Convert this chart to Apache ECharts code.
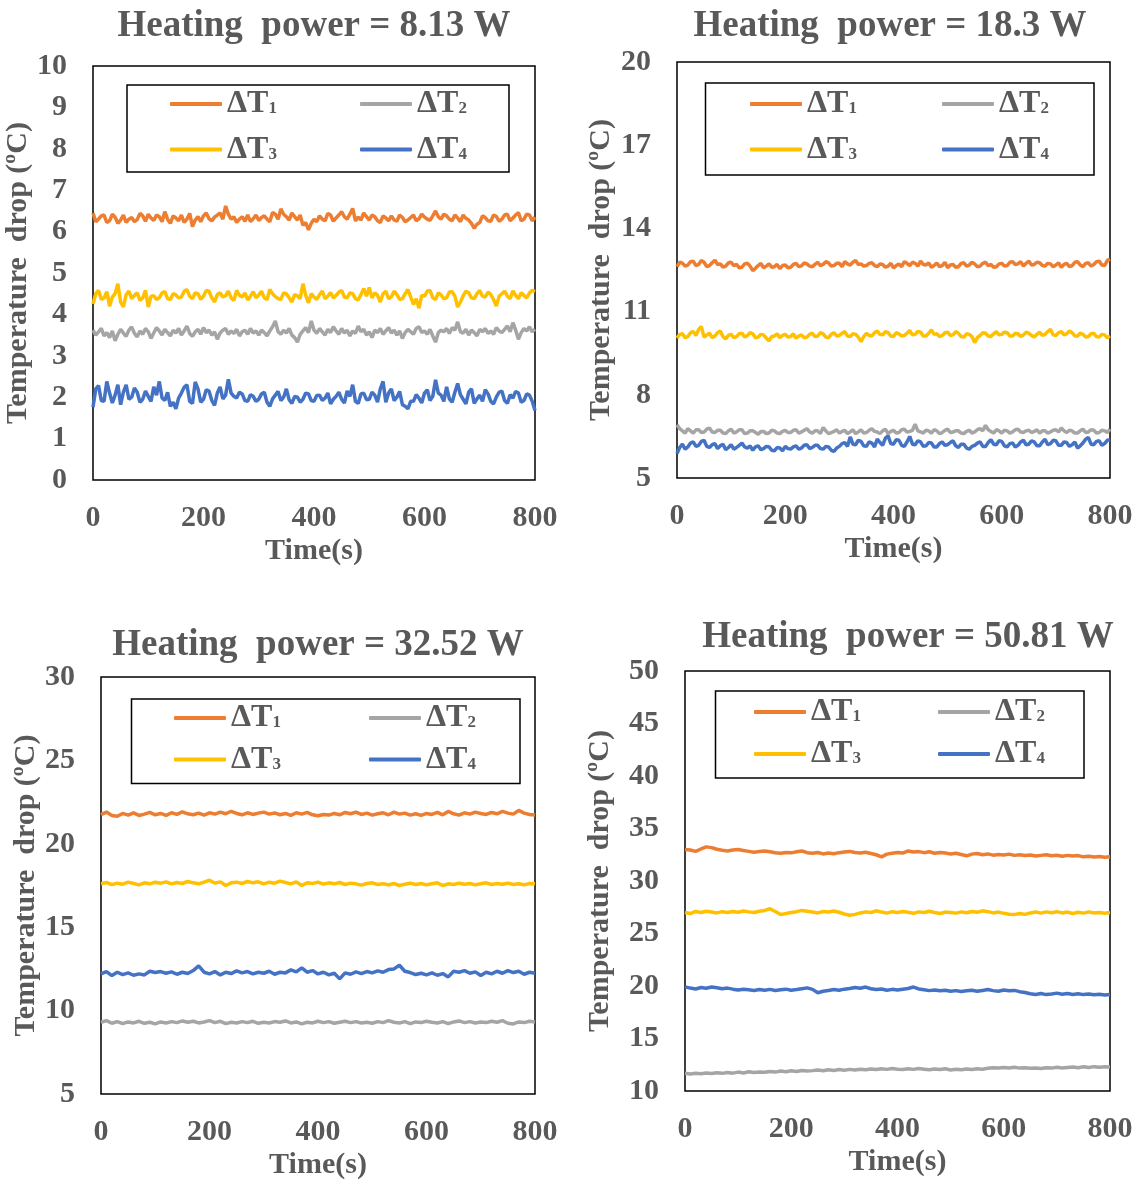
<!DOCTYPE html>
<html lang="en">
<head>
    <meta charset="UTF-8">
    <title>Temperature drop vs time</title>
    <script type="text/javascript" src="https://cdn.jsdelivr.net/npm/echarts@6/dist/echarts.min.js"></script>
    <style>html, body { margin: 0; padding: 0; background: #fff; }</style>
</head>
<body>
<div id="main" style="width: 1145px;height:1182px;"></div>
<script>

    // time axis (s), 5 s steps for the two low-power runs, 10 s for the others
    var TIME5 = [0,5,10,15,20,25,30,35,40,45,50,55,60,65,70,75,80,85,90,95,
        100,105,110,115,120,125,130,135,140,145,150,155,160,165,170,175,180,185,190,195,
        200,205,210,215,220,225,230,235,240,245,250,255,260,265,270,275,280,285,290,295,
        300,305,310,315,320,325,330,335,340,345,350,355,360,365,370,375,380,385,390,395,
        400,405,410,415,420,425,430,435,440,445,450,455,460,465,470,475,480,485,490,495,
        500,505,510,515,520,525,530,535,540,545,550,555,560,565,570,575,580,585,590,595,
        600,605,610,615,620,625,630,635,640,645,650,655,660,665,670,675,680,685,690,695,
        700,705,710,715,720,725,730,735,740,745,750,755,760,765,770,775,780,785,790,795,800];
    var TIME10 = [0,10,20,30,40,50,60,70,80,90,
        100,110,120,130,140,150,160,170,180,190,
        200,210,220,230,240,250,260,270,280,290,
        300,310,320,330,340,350,360,370,380,390,
        400,410,420,430,440,450,460,470,480,490,
        500,510,520,530,540,550,560,570,580,590,
        600,610,620,630,640,650,660,670,680,690,
        700,710,720,730,740,750,760,770,780,790,800];

    var NAMES = ['ΔT1', 'ΔT2', 'ΔT3', 'ΔT4'];
    var COLORS = ['#ED7D31', '#A5A5A5', '#FFC000', '#4472C4'];
    var TITLES = ['Heating  power = 8.13 W', 'Heating  power = 18.3 W',
        'Heating  power = 32.52 W', 'Heating  power = 50.81 W'];
    var Y_MIN = [0, 5, 5, 10];
    var Y_MAX = [10, 20, 30, 50];
    var Y_STEP = [1, 3, 5, 5];

    // 8.13 W
    var p1T1 = [6.45,6.24,6.30,6.38,6.40,6.22,6.26,6.42,6.35,6.20,
        6.28,6.40,6.22,6.30,6.34,6.24,6.29,6.44,6.38,6.25,
        6.42,6.33,6.27,6.40,6.36,6.24,6.48,6.30,6.20,6.38,
        6.33,6.26,6.40,6.22,6.30,6.44,6.12,6.28,6.36,6.24,
        6.38,6.45,6.31,6.26,6.35,6.40,6.45,6.30,6.62,6.42,
        6.30,6.36,6.22,6.30,6.36,6.25,6.40,6.24,6.31,6.40,
        6.27,6.34,6.38,6.30,6.24,6.46,6.42,6.30,6.55,6.42,
        6.36,6.28,6.45,6.36,6.28,6.40,6.15,6.22,6.04,6.20,
        6.30,6.24,6.38,6.30,6.26,6.44,6.40,6.25,6.33,6.40,
        6.48,6.36,6.30,6.42,6.56,6.26,6.35,6.28,6.45,6.36,
        6.28,6.40,6.36,6.26,6.22,6.38,6.33,6.26,6.38,6.28,
        6.25,6.40,6.34,6.24,6.28,6.34,6.40,6.26,6.31,6.42,
        6.35,6.30,6.27,6.38,6.50,6.36,6.30,6.42,6.38,6.30,
        6.26,6.40,6.33,6.24,6.40,6.32,6.28,6.20,6.08,6.18,
        6.22,6.38,6.34,6.26,6.25,6.40,6.37,6.25,6.30,6.40,
        6.42,6.26,6.33,6.40,6.46,6.26,6.30,6.42,6.40,6.26,6.35];
    var p1T2 = [3.62,3.50,3.58,3.66,3.48,3.56,3.44,3.60,3.36,3.52,
        3.64,3.55,3.47,3.62,3.70,3.54,3.46,3.60,3.52,3.66,
        3.58,3.42,3.55,3.68,3.60,3.50,3.64,3.56,3.48,3.62,
        3.55,3.66,3.50,3.60,3.72,3.54,3.47,3.58,3.64,3.52,
        3.68,3.56,3.62,3.50,3.58,3.40,3.55,3.62,3.66,3.52,
        3.60,3.54,3.64,3.48,3.58,3.62,3.52,3.66,3.55,3.60,
        3.50,3.62,3.56,3.48,3.60,3.70,3.84,3.58,3.52,3.62,
        3.55,3.66,3.50,3.44,3.33,3.52,3.60,3.68,3.56,3.84,
        3.62,3.54,3.66,3.58,3.50,3.64,3.56,3.70,3.60,3.52,
        3.66,3.55,3.62,3.48,3.60,3.54,3.72,3.58,3.64,3.50,
        3.58,3.44,3.62,3.56,3.66,3.52,3.60,3.68,3.55,3.62,
        3.50,3.60,3.42,3.56,3.64,3.58,3.52,3.66,3.70,3.56,
        3.60,3.52,3.64,3.48,3.33,3.56,3.62,3.58,3.66,3.54,
        3.68,3.62,3.82,3.58,3.55,3.64,3.50,3.62,3.56,3.48,
        3.64,3.58,3.66,3.54,3.60,3.52,3.68,3.60,3.56,3.64,
        3.72,3.58,3.80,3.62,3.40,3.56,3.66,3.60,3.70,3.58,3.64];
    var p1T3 = [4.25,4.50,4.58,4.36,4.40,4.55,4.20,4.42,4.50,4.74,
        4.30,4.18,4.48,4.56,4.38,4.46,4.52,4.34,4.40,4.58,
        4.18,4.44,4.45,4.36,4.40,4.52,4.55,4.38,4.36,4.50,
        4.47,4.40,4.42,4.56,4.60,4.44,4.38,4.52,4.50,4.36,
        4.44,4.58,4.56,4.40,4.30,4.48,4.52,4.42,4.45,4.56,
        4.40,4.34,4.58,4.46,4.42,4.52,4.35,4.44,4.55,4.40,
        4.47,4.56,4.40,4.36,4.60,4.50,4.43,4.38,4.36,4.52,
        4.50,4.40,4.30,4.48,4.45,4.38,4.74,4.46,4.28,4.50,
        4.42,4.36,4.48,4.56,4.38,4.44,4.53,4.40,4.46,4.54,
        4.58,4.42,4.40,4.52,4.50,4.38,4.35,4.48,4.62,4.44,
        4.65,4.40,4.52,4.46,4.30,4.50,4.56,4.38,4.42,4.56,
        4.48,4.36,4.38,4.50,4.60,4.42,4.24,4.38,4.15,4.46,
        4.44,4.56,4.58,4.40,4.36,4.52,4.47,4.38,4.40,4.54,
        4.55,4.44,4.18,4.30,4.45,4.56,4.52,4.40,4.38,4.50,
        4.58,4.44,4.42,4.54,4.48,4.36,4.20,4.44,4.50,4.56,
        4.44,4.38,4.57,4.46,4.38,4.52,4.46,4.40,4.52,4.58,4.55];
    var p1T4 = [1.76,2.20,2.28,1.92,1.90,2.38,2.10,1.86,2.05,2.30,
        1.82,2.12,2.30,1.95,2.00,2.22,2.12,1.88,1.95,2.15,
        2.02,1.90,2.25,2.05,2.38,1.98,1.92,2.12,1.78,1.88,
        1.72,1.98,2.10,2.24,2.30,1.90,1.85,2.37,2.20,1.88,
        1.95,2.18,2.15,1.92,1.80,2.10,2.25,1.96,2.05,2.43,
        2.10,2.02,1.98,2.12,2.08,1.92,1.90,2.06,2.02,1.90,
        1.95,2.08,2.12,1.88,1.78,1.96,2.05,2.14,1.92,2.00,
        2.20,1.94,1.85,2.02,2.00,1.88,1.95,2.10,2.08,1.92,
        1.90,2.04,2.05,1.92,1.98,2.10,1.84,1.95,2.02,2.12,
        1.95,1.86,2.15,2.02,2.30,1.90,1.85,2.08,2.10,1.94,
        1.95,2.12,2.05,1.88,2.20,2.38,1.88,2.10,2.20,1.92,
        2.00,2.14,1.82,1.78,1.72,1.90,1.90,2.06,1.98,1.86,
        2.10,2.18,1.92,2.02,2.42,2.10,2.05,1.90,2.25,1.96,
        1.88,2.12,2.33,2.06,1.95,1.84,2.12,2.20,1.85,1.96,
        2.05,1.90,2.18,2.08,1.90,1.84,2.00,2.12,2.15,1.92,
        1.85,2.06,1.98,2.14,2.10,1.88,1.92,2.08,2.05,1.90,1.68];

    // 18.3 W
    var p2T1 = [12.62,12.78,12.75,12.64,12.68,12.80,12.82,12.66,12.70,12.84,
        12.78,12.62,12.66,12.76,12.85,12.70,12.72,12.60,12.64,12.76,
        12.78,12.66,12.70,12.58,12.60,12.72,12.75,12.64,12.48,12.56,
        12.66,12.74,12.58,12.64,12.72,12.60,12.62,12.70,12.55,12.66,
        12.68,12.58,12.60,12.70,12.74,12.62,12.65,12.76,12.72,12.64,
        12.62,12.70,12.78,12.66,12.70,12.80,12.76,12.64,12.66,12.74,
        12.74,12.62,12.80,12.72,12.68,12.78,12.84,12.70,12.72,12.64,
        12.66,12.74,12.76,12.66,12.62,12.72,12.70,12.60,12.64,12.74,
        12.58,12.66,12.72,12.62,12.80,12.74,12.66,12.78,12.74,12.64,
        12.82,12.70,12.68,12.76,12.60,12.66,12.75,12.62,12.66,12.78,
        12.58,12.68,12.70,12.60,12.62,12.74,12.76,12.64,12.68,12.78,
        12.72,12.62,12.64,12.74,12.78,12.66,12.70,12.60,12.62,12.72,
        12.74,12.64,12.66,12.78,12.80,12.70,12.72,12.80,12.64,12.74,
        12.82,12.68,12.70,12.78,12.76,12.66,12.64,12.74,12.72,12.62,
        12.68,12.76,12.60,12.70,12.74,12.62,12.66,12.78,12.80,12.68,
        12.62,12.74,12.76,12.64,12.70,12.80,12.82,12.68,12.66,12.84,12.90];
    var p2T2 = [6.92,6.78,6.70,6.62,6.78,6.70,6.62,6.74,6.74,6.64,
        6.66,6.76,6.80,6.66,6.64,6.72,6.72,6.62,6.60,6.70,
        6.76,6.62,6.66,6.74,6.74,6.60,6.62,6.70,6.70,6.64,
        6.58,6.68,6.68,6.60,6.62,6.72,6.70,6.62,6.60,6.68,
        6.72,6.64,6.64,6.72,6.74,6.62,6.66,6.72,6.78,6.66,
        6.62,6.70,6.70,6.60,6.82,6.70,6.60,6.64,6.68,6.74,
        6.62,6.68,6.72,6.60,6.66,6.74,6.60,6.66,6.74,6.62,
        6.64,6.72,6.78,6.68,6.66,6.60,6.70,6.76,6.60,6.68,
        6.72,6.62,6.64,6.74,6.76,6.66,6.68,6.72,6.94,6.70,
        6.66,6.62,6.72,6.70,6.62,6.74,6.70,6.60,6.64,6.72,
        6.76,6.64,6.66,6.70,6.70,6.62,6.60,6.68,6.72,6.62,
        6.66,6.74,6.78,6.70,6.90,6.74,6.68,6.62,6.74,6.70,
        6.62,6.72,6.70,6.62,6.66,6.74,6.76,6.66,6.64,6.70,
        6.72,6.64,6.68,6.74,6.62,6.70,6.70,6.62,6.66,6.72,
        6.74,6.66,6.80,6.70,6.64,6.72,6.70,6.62,6.62,6.70,
        6.76,6.64,6.66,6.74,6.72,6.62,6.64,6.72,6.70,6.64,6.76];
    var p2T3 = [10.05,10.18,10.20,10.06,10.10,10.24,10.28,10.14,10.36,10.46,
        10.08,10.16,10.22,10.06,10.12,10.24,10.30,10.10,10.02,10.14,
        10.18,10.06,10.10,10.20,10.22,10.08,10.14,10.24,10.20,10.06,
        10.08,10.18,10.16,10.04,9.95,10.10,10.12,10.20,10.06,10.14,
        10.18,10.08,10.10,10.20,10.04,10.12,10.16,10.06,10.08,10.18,
        10.22,10.10,10.12,10.24,10.20,10.08,10.06,10.18,10.24,10.12,
        10.14,10.22,10.28,10.12,10.10,10.20,10.18,10.08,9.92,10.10,
        10.22,10.14,10.12,10.24,10.30,10.18,10.16,10.28,10.24,10.12,
        10.10,10.24,10.20,10.12,10.14,10.22,10.32,10.16,10.18,10.28,
        10.26,10.12,10.12,10.22,10.34,10.18,10.20,10.10,10.14,10.24,
        10.26,10.14,10.16,10.28,10.22,10.10,10.08,10.20,10.18,10.10,
        9.88,10.06,10.14,10.24,10.22,10.12,10.10,10.20,10.28,10.16,
        10.18,10.26,10.24,10.12,10.12,10.22,10.20,10.10,10.16,10.26,
        10.22,10.14,10.08,10.18,10.26,10.14,10.18,10.28,10.36,10.16,
        10.14,10.24,10.28,10.16,10.20,10.30,10.24,10.12,10.12,10.22,
        10.18,10.08,10.10,10.20,10.22,10.10,10.08,10.18,10.16,10.06,10.12];
    var p2T4 = [5.88,6.10,6.22,6.04,6.12,6.26,6.30,6.14,6.18,6.32,
        6.36,6.14,6.10,6.20,6.24,6.06,6.16,6.22,6.02,6.10,
        6.20,6.04,6.10,6.18,6.26,6.12,6.08,6.16,6.00,6.12,
        6.16,6.02,6.06,6.14,6.12,6.00,5.98,6.10,6.08,5.98,
        6.14,6.06,6.04,6.12,6.16,6.04,6.08,6.18,6.20,6.06,
        6.10,6.18,6.18,6.06,6.04,6.14,6.12,6.00,5.96,6.08,
        6.14,6.24,6.28,6.14,6.48,6.22,6.20,6.36,6.32,6.16,
        6.14,6.30,6.26,6.12,6.40,6.28,6.18,6.44,6.52,6.24,
        6.22,6.38,6.36,6.18,6.14,6.30,6.50,6.22,6.20,6.34,
        6.30,6.14,6.16,6.28,6.26,6.12,6.12,6.24,6.30,6.18,
        6.20,6.28,6.34,6.16,6.10,6.22,6.22,6.08,6.04,6.14,
        6.18,6.26,6.30,6.14,6.14,6.28,6.38,6.22,6.20,6.34,
        6.32,6.16,6.12,6.24,6.26,6.12,6.18,6.30,6.36,6.20,
        6.22,6.34,6.30,6.16,6.16,6.30,6.40,6.20,6.24,6.36,
        6.34,6.18,6.18,6.30,6.28,6.14,6.20,6.30,6.08,6.16,
        6.26,6.40,6.46,6.22,6.20,6.32,6.34,6.18,6.24,6.36,6.38];

    // 32.52 W
    var p3T1 = [21.75,21.90,21.70,21.65,21.82,21.72,21.85,21.70,21.78,21.88,
        21.74,21.82,21.70,21.86,21.76,21.92,21.80,21.74,21.84,21.72,
        21.86,21.78,21.90,21.80,21.95,21.82,21.74,21.86,21.76,21.84,
        21.90,21.78,21.85,21.74,21.82,21.70,21.86,21.78,21.88,21.74,
        21.68,21.76,21.72,21.82,21.74,21.88,21.80,21.90,21.76,21.84,
        21.72,21.80,21.86,21.74,21.90,21.78,21.84,21.72,21.80,21.70,
        21.82,21.76,21.88,21.74,21.94,21.80,21.72,21.86,21.78,21.90,
        21.82,21.76,21.88,21.80,21.94,21.84,21.78,22.00,21.84,21.76,21.72];
    var p3T2 = [9.30,9.40,9.24,9.34,9.22,9.32,9.26,9.36,9.24,9.30,
        9.20,9.32,9.26,9.34,9.28,9.38,9.30,9.36,9.26,9.32,
        9.40,9.28,9.36,9.22,9.30,9.26,9.34,9.28,9.36,9.24,
        9.30,9.26,9.34,9.30,9.38,9.26,9.32,9.20,9.30,9.26,
        9.36,9.28,9.34,9.24,9.30,9.36,9.28,9.34,9.26,9.30,
        9.24,9.34,9.28,9.40,9.30,9.26,9.34,9.22,9.32,9.28,
        9.36,9.30,9.26,9.34,9.22,9.32,9.38,9.28,9.34,9.26,
        9.32,9.28,9.36,9.30,9.40,9.24,9.20,9.32,9.28,9.36,9.32];
    var p3T3 = [17.60,17.68,17.55,17.64,17.58,17.70,17.62,17.54,17.66,17.60,
        17.70,17.64,17.72,17.60,17.68,17.62,17.74,17.66,17.60,17.70,
        17.82,17.64,17.72,17.50,17.66,17.70,17.62,17.74,17.66,17.72,
        17.60,17.70,17.64,17.76,17.68,17.60,17.72,17.50,17.66,17.62,
        17.70,17.58,17.66,17.60,17.68,17.56,17.64,17.60,17.52,17.62,
        17.66,17.56,17.60,17.54,17.62,17.50,17.58,17.64,17.56,17.62,
        17.54,17.60,17.66,17.50,17.60,17.56,17.64,17.58,17.62,17.54,
        17.60,17.66,17.56,17.62,17.58,17.64,17.56,17.60,17.54,17.62,17.60];
    var p3T4 = [12.20,12.34,12.10,12.30,12.16,12.26,12.12,12.20,12.14,12.36,
        12.28,12.34,12.24,12.32,12.18,12.30,12.22,12.40,12.68,12.30,
        12.20,12.34,12.14,12.30,12.22,12.38,12.26,12.34,12.20,12.30,
        12.24,12.36,12.18,12.30,12.26,12.44,12.32,12.56,12.30,12.40,
        12.20,12.30,12.14,12.24,11.90,12.26,12.18,12.32,12.22,12.34,
        12.26,12.38,12.30,12.46,12.50,12.72,12.36,12.28,12.16,12.24,
        12.14,12.26,12.12,12.22,12.02,12.36,12.30,12.40,12.24,12.32,
        12.10,12.30,12.20,12.36,12.24,12.40,12.28,12.36,12.18,12.30,12.24];

    // 50.81 W
    var p4T1 = [33.00,32.95,32.82,33.05,33.25,33.18,33.02,32.92,32.86,32.95,
        33.00,32.90,32.82,32.74,32.80,32.86,32.78,32.70,32.64,32.72,
        32.68,32.78,32.86,32.70,32.64,32.72,32.58,32.66,32.60,32.70,
        32.76,32.82,32.72,32.66,32.74,32.62,32.50,32.30,32.56,32.64,
        32.72,32.66,32.86,32.76,32.80,32.70,32.78,32.64,32.72,32.66,
        32.58,32.64,32.52,32.40,32.56,32.62,32.50,32.58,32.46,32.52,
        32.48,32.56,32.44,32.50,32.42,32.48,32.38,32.44,32.50,32.40,
        32.46,32.36,32.44,32.38,32.42,32.30,32.36,32.28,32.34,32.26,32.30];
    var p4T2 = [11.68,11.62,11.70,11.64,11.72,11.66,11.74,11.68,11.76,11.70,
        11.80,11.72,11.84,11.76,11.82,11.78,11.86,11.80,11.90,11.84,
        11.92,11.86,11.96,11.90,11.94,12.00,11.92,12.02,11.96,12.04,
        11.98,12.06,12.00,12.08,12.02,12.10,12.04,12.12,12.06,12.14,
        12.08,12.04,12.12,12.06,12.14,12.08,12.02,12.10,12.04,12.12,
        12.00,12.08,12.02,12.10,12.04,12.12,12.08,12.16,12.22,12.18,
        12.24,12.20,12.26,12.18,12.22,12.16,12.20,12.14,12.22,12.18,
        12.26,12.20,12.24,12.28,12.22,12.30,12.24,12.32,12.26,12.30,12.28];
    var p4T3 = [27.00,26.90,27.10,27.00,27.12,27.04,26.96,27.08,27.00,27.10,
        27.02,27.14,27.06,27.00,27.12,27.20,27.36,27.10,26.80,26.90,
        27.00,27.08,27.20,27.12,27.04,26.96,27.10,27.04,27.14,27.02,
        26.86,26.74,26.82,26.96,27.06,27.00,27.16,27.04,26.94,27.08,
        27.00,27.10,27.02,26.92,27.06,27.00,27.12,27.00,26.90,27.04,
        27.00,26.94,27.06,26.98,27.10,27.02,27.16,27.08,26.96,27.04,
        26.92,26.84,26.80,26.90,26.82,26.96,27.04,26.94,27.06,26.98,
        27.08,26.96,27.04,26.90,27.02,26.94,27.06,26.96,27.00,26.92,27.00];
    var p4T4 = [19.92,19.80,19.72,19.86,19.78,19.90,19.84,19.74,19.80,19.70,
        19.62,19.70,19.64,19.58,19.66,19.60,19.68,19.58,19.64,19.70,
        19.60,19.66,19.74,19.82,19.68,19.36,19.50,19.58,19.66,19.60,
        19.70,19.76,19.86,19.78,19.90,19.74,19.66,19.72,19.60,19.68,
        19.62,19.70,19.76,19.90,19.72,19.64,19.56,19.62,19.54,19.60,
        19.50,19.56,19.48,19.54,19.60,19.50,19.58,19.66,19.56,19.50,
        19.62,19.54,19.58,19.46,19.38,19.26,19.20,19.28,19.18,19.24,
        19.32,19.22,19.28,19.20,19.26,19.18,19.24,19.16,19.22,19.14,19.18];

    var DATA = [
        [p1T1, p1T2, p1T3, p1T4],
        [p2T1, p2T2, p2T3, p2T4],
        [p3T1, p3T2, p3T3, p3T4],
        [p4T1, p4T2, p4T3, p4T4]
    ];
    var PANEL_TIME = [TIME5, TIME5, TIME10, TIME10];

    // panel layout (pixels)
    var PANELS = [
        {grid: {left: 93, top: 66, width: 442, height: 414}, titleX: 314, titleY: 8, yGap: 50,
            box: [127, 85, 382, 87], cols: [170, 360], rows: [106, 151.5]},
        {grid: {left: 677, top: 62, width: 433, height: 416}, titleX: 890, titleY: 8, yGap: 61,
            box: [705.5, 83, 388.5, 92], cols: [750, 942], rows: [106, 151.5]},
        {grid: {left: 101, top: 677, width: 434, height: 417}, titleX: 318, titleY: 627, yGap: 60,
            box: [131.5, 699, 388.5, 84.5], cols: [174, 369], rows: [720, 761.5]},
        {grid: {left: 685, top: 671, width: 425, height: 420}, titleX: 908, titleY: 619, yGap: 70,
            box: [715.5, 691, 368.5, 87], cols: [754, 938], rows: [714, 756]}
    ];

    var FONT = 'Liberation Serif, Times New Roman, serif';
    var GRAY = '#595959';

    var option = {
        animation: false,
        backgroundColor: '#fff',
        title: [], grid: [], xAxis: [], yAxis: [], legend: [], series: [], graphic: []
    };

    PANELS.forEach(function (p, k) {
        option.title.push({
            text: TITLES[k], left: p.titleX, top: p.titleY, textAlign: 'center', padding: 0,
            textStyle: {fontFamily: FONT, fontWeight: 'bold', fontSize: 37, color: GRAY}
        });
        option.grid.push({
            left: p.grid.left, top: p.grid.top, width: p.grid.width, height: p.grid.height,
            show: true, borderColor: '#000', borderWidth: 1.5, backgroundColor: 'transparent'
        });
        option.xAxis.push({
            type: 'value', gridIndex: k, min: 0, max: 800, interval: 200,
            axisLine: {show: false}, axisTick: {show: false}, splitLine: {show: false},
            axisLabel: {margin: 23, fontFamily: FONT, fontWeight: 'bold', fontSize: 30, color: GRAY},
            name: 'Time(s)', nameLocation: 'middle', nameGap: 56,
            nameTextStyle: {fontFamily: FONT, fontWeight: 'bold', fontSize: 30, color: GRAY}
        });
        option.yAxis.push({
            type: 'value', gridIndex: k, min: Y_MIN[k], max: Y_MAX[k], interval: Y_STEP[k],
            axisLine: {show: false}, axisTick: {show: false}, splitLine: {show: false},
            axisLabel: {margin: 26, fontFamily: FONT, fontWeight: 'bold', fontSize: 30, color: GRAY},
            name: 'Temperature  drop (ºC)', nameLocation: 'middle', nameGap: p.yGap,
            nameTextStyle: {fontFamily: FONT, fontWeight: 'bold', fontSize: 30, color: GRAY}
        });

        // legend frame
        option.graphic.push({
            type: 'rect', silent: true,
            shape: {x: p.box[0], y: p.box[1], width: p.box[2], height: p.box[3]},
            style: {fill: 'none', stroke: '#000', lineWidth: 1.5}
        });

        NAMES.forEach(function (name, j) {
            var vals = DATA[k][j];
            option.series.push({
                name: name, type: 'line', xAxisIndex: k, yAxisIndex: k,
                data: PANEL_TIME[k].map(function (t, i) { return [t, vals[i]]; }),
                showSymbol: false, symbol: 'none',
                lineStyle: {width: 3.5, color: COLORS[j]},
                itemStyle: {color: COLORS[j]}
            });
            option.legend.push({
                data: [name], selectedMode: false, padding: 0,
                left: p.cols[j % 2], top: p.rows[Math.floor(j / 2)] - 18,
                icon: 'roundRect', itemWidth: 52, itemHeight: 4,
                formatter: function (n) { return '{m|ΔT}{s|' + n.slice(2) + '}'; },
                textStyle: {
                    fontFamily: FONT, fontWeight: 'bold', color: GRAY,
                    rich: {
                        m: {fontFamily: FONT, fontWeight: 'bold', fontSize: 32, lineHeight: 36, color: GRAY},
                        s: {fontFamily: FONT, fontWeight: 'bold', fontSize: 17, padding: [10, 0, 0, 0], color: GRAY}
                    }
                }
            });
        });
    });

    var myChart = echarts.init(document.getElementById('main'));
    myChart.setOption(option);

</script>
</body>
</html>
